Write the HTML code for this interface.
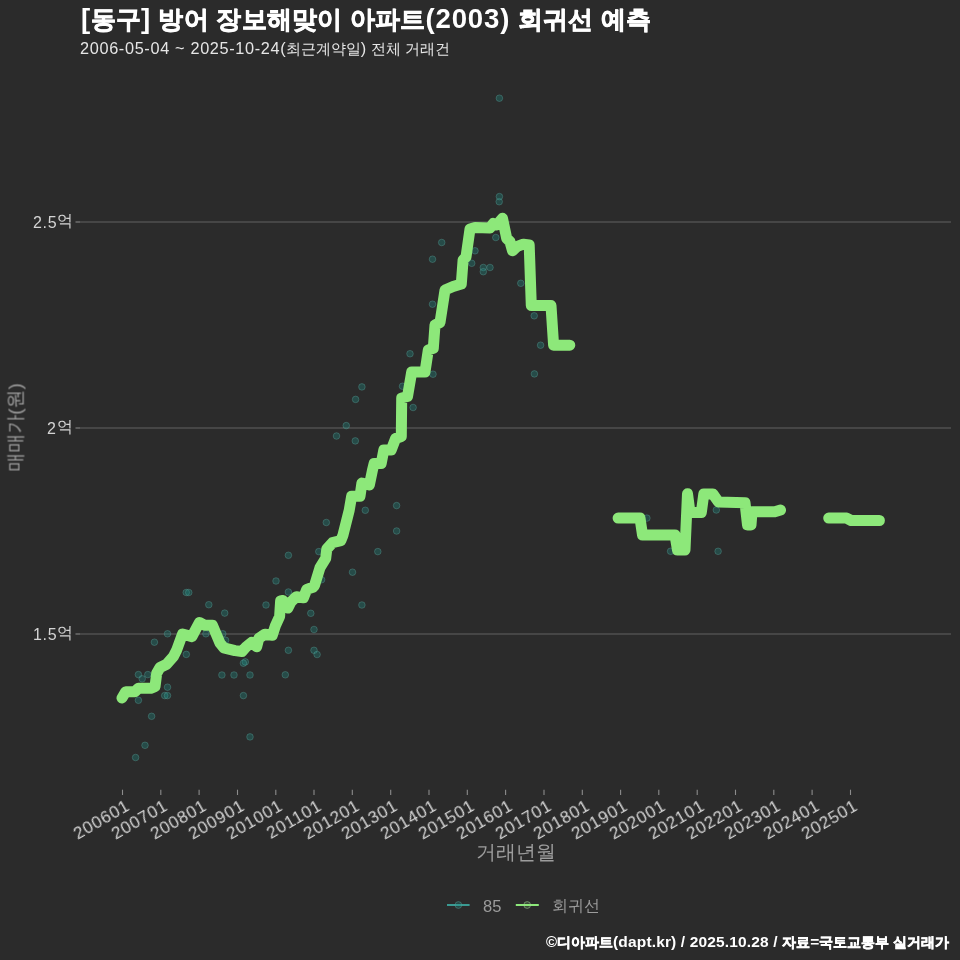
<!DOCTYPE html>
<html><head><meta charset="utf-8"><style>
html,body{margin:0;padding:0;}
body{width:960px;height:960px;background:#2b2b2b;position:relative;overflow:hidden;font-family:"Liberation Sans",sans-serif;}
.t{position:absolute;white-space:nowrap;line-height:1;will-change:transform;}
.xl{position:absolute;width:200px;text-align:right;white-space:nowrap;line-height:1;font-size:17px;letter-spacing:0.8px;color:#d4d4d4;transform-origin:100% 0;transform:rotate(-30deg);will-change:transform;}
svg{position:absolute;left:0;top:0;}
</style></head><body>
<svg width="960" height="960" viewBox="0 0 960 960">
<line x1="80" y1="222" x2="951" y2="222" stroke="#505050" stroke-width="1.6"/><line x1="75.5" y1="222" x2="80" y2="222" stroke="#6a6a6a" stroke-width="1.6"/><line x1="80" y1="428" x2="951" y2="428" stroke="#505050" stroke-width="1.6"/><line x1="75.5" y1="428" x2="80" y2="428" stroke="#6a6a6a" stroke-width="1.6"/><line x1="80" y1="634" x2="951" y2="634" stroke="#505050" stroke-width="1.6"/><line x1="75.5" y1="634" x2="80" y2="634" stroke="#6a6a6a" stroke-width="1.6"/><line x1="122.5" y1="789.7" x2="122.5" y2="795" stroke="#8c8c8c" stroke-width="1.1"/><line x1="160.8" y1="789.7" x2="160.8" y2="795" stroke="#8c8c8c" stroke-width="1.1"/><line x1="199.1" y1="789.7" x2="199.1" y2="795" stroke="#8c8c8c" stroke-width="1.1"/><line x1="237.5" y1="789.7" x2="237.5" y2="795" stroke="#8c8c8c" stroke-width="1.1"/><line x1="275.8" y1="789.7" x2="275.8" y2="795" stroke="#8c8c8c" stroke-width="1.1"/><line x1="314.0" y1="789.7" x2="314.0" y2="795" stroke="#8c8c8c" stroke-width="1.1"/><line x1="352.3" y1="789.7" x2="352.3" y2="795" stroke="#8c8c8c" stroke-width="1.1"/><line x1="390.7" y1="789.7" x2="390.7" y2="795" stroke="#8c8c8c" stroke-width="1.1"/><line x1="429.0" y1="789.7" x2="429.0" y2="795" stroke="#8c8c8c" stroke-width="1.1"/><line x1="467.3" y1="789.7" x2="467.3" y2="795" stroke="#8c8c8c" stroke-width="1.1"/><line x1="505.6" y1="789.7" x2="505.6" y2="795" stroke="#8c8c8c" stroke-width="1.1"/><line x1="544.0" y1="789.7" x2="544.0" y2="795" stroke="#8c8c8c" stroke-width="1.1"/><line x1="582.3" y1="789.7" x2="582.3" y2="795" stroke="#8c8c8c" stroke-width="1.1"/><line x1="620.6" y1="789.7" x2="620.6" y2="795" stroke="#8c8c8c" stroke-width="1.1"/><line x1="658.8" y1="789.7" x2="658.8" y2="795" stroke="#8c8c8c" stroke-width="1.1"/><line x1="697.2" y1="789.7" x2="697.2" y2="795" stroke="#8c8c8c" stroke-width="1.1"/><line x1="735.5" y1="789.7" x2="735.5" y2="795" stroke="#8c8c8c" stroke-width="1.1"/><line x1="773.8" y1="789.7" x2="773.8" y2="795" stroke="#8c8c8c" stroke-width="1.1"/><line x1="812.1" y1="789.7" x2="812.1" y2="795" stroke="#8c8c8c" stroke-width="1.1"/><line x1="850.5" y1="789.7" x2="850.5" y2="795" stroke="#8c8c8c" stroke-width="1.1"/><circle cx="208.8" cy="604.7" r="3.3" fill="#1f8f86" fill-opacity="0.33" stroke="#5fa8a0" stroke-opacity="0.35" stroke-width="1"/><circle cx="224.7" cy="613.1" r="3.3" fill="#1f8f86" fill-opacity="0.33" stroke="#5fa8a0" stroke-opacity="0.35" stroke-width="1"/><circle cx="167.5" cy="633.8" r="3.3" fill="#1f8f86" fill-opacity="0.33" stroke="#5fa8a0" stroke-opacity="0.35" stroke-width="1"/><circle cx="154.4" cy="642.2" r="3.3" fill="#1f8f86" fill-opacity="0.33" stroke="#5fa8a0" stroke-opacity="0.35" stroke-width="1"/><circle cx="186.3" cy="654.4" r="3.3" fill="#1f8f86" fill-opacity="0.33" stroke="#5fa8a0" stroke-opacity="0.35" stroke-width="1"/><circle cx="138.4" cy="674.6" r="3.3" fill="#1f8f86" fill-opacity="0.33" stroke="#5fa8a0" stroke-opacity="0.35" stroke-width="1"/><circle cx="147.8" cy="674.6" r="3.3" fill="#1f8f86" fill-opacity="0.33" stroke="#5fa8a0" stroke-opacity="0.35" stroke-width="1"/><circle cx="142.2" cy="678.8" r="3.3" fill="#1f8f86" fill-opacity="0.33" stroke="#5fa8a0" stroke-opacity="0.35" stroke-width="1"/><circle cx="167.5" cy="687.2" r="3.3" fill="#1f8f86" fill-opacity="0.33" stroke="#5fa8a0" stroke-opacity="0.35" stroke-width="1"/><circle cx="164.7" cy="695.6" r="3.3" fill="#1f8f86" fill-opacity="0.33" stroke="#5fa8a0" stroke-opacity="0.35" stroke-width="1"/><circle cx="167.5" cy="695.6" r="3.3" fill="#1f8f86" fill-opacity="0.33" stroke="#5fa8a0" stroke-opacity="0.35" stroke-width="1"/><circle cx="138.4" cy="700.3" r="3.3" fill="#1f8f86" fill-opacity="0.33" stroke="#5fa8a0" stroke-opacity="0.35" stroke-width="1"/><circle cx="151.6" cy="716.3" r="3.3" fill="#1f8f86" fill-opacity="0.33" stroke="#5fa8a0" stroke-opacity="0.35" stroke-width="1"/><circle cx="145.0" cy="745.3" r="3.3" fill="#1f8f86" fill-opacity="0.33" stroke="#5fa8a0" stroke-opacity="0.35" stroke-width="1"/><circle cx="135.6" cy="757.5" r="3.3" fill="#1f8f86" fill-opacity="0.33" stroke="#5fa8a0" stroke-opacity="0.35" stroke-width="1"/><circle cx="205.9" cy="633.8" r="3.3" fill="#1f8f86" fill-opacity="0.33" stroke="#5fa8a0" stroke-opacity="0.35" stroke-width="1"/><circle cx="222.8" cy="633.8" r="3.3" fill="#1f8f86" fill-opacity="0.33" stroke="#5fa8a0" stroke-opacity="0.35" stroke-width="1"/><circle cx="225.6" cy="640.3" r="3.3" fill="#1f8f86" fill-opacity="0.33" stroke="#5fa8a0" stroke-opacity="0.35" stroke-width="1"/><circle cx="221.9" cy="675.0" r="3.3" fill="#1f8f86" fill-opacity="0.33" stroke="#5fa8a0" stroke-opacity="0.35" stroke-width="1"/><circle cx="234.0" cy="675.0" r="3.3" fill="#1f8f86" fill-opacity="0.33" stroke="#5fa8a0" stroke-opacity="0.35" stroke-width="1"/><circle cx="250.0" cy="675.0" r="3.3" fill="#1f8f86" fill-opacity="0.33" stroke="#5fa8a0" stroke-opacity="0.35" stroke-width="1"/><circle cx="245.3" cy="661.9" r="3.3" fill="#1f8f86" fill-opacity="0.33" stroke="#5fa8a0" stroke-opacity="0.35" stroke-width="1"/><circle cx="243.4" cy="695.6" r="3.3" fill="#1f8f86" fill-opacity="0.33" stroke="#5fa8a0" stroke-opacity="0.35" stroke-width="1"/><circle cx="250.0" cy="736.9" r="3.3" fill="#1f8f86" fill-opacity="0.33" stroke="#5fa8a0" stroke-opacity="0.35" stroke-width="1"/><circle cx="276.0" cy="581.0" r="3.3" fill="#1f8f86" fill-opacity="0.33" stroke="#5fa8a0" stroke-opacity="0.35" stroke-width="1"/><circle cx="288.4" cy="592.0" r="3.3" fill="#1f8f86" fill-opacity="0.33" stroke="#5fa8a0" stroke-opacity="0.35" stroke-width="1"/><circle cx="266.0" cy="605.0" r="3.3" fill="#1f8f86" fill-opacity="0.33" stroke="#5fa8a0" stroke-opacity="0.35" stroke-width="1"/><circle cx="310.8" cy="613.3" r="3.3" fill="#1f8f86" fill-opacity="0.33" stroke="#5fa8a0" stroke-opacity="0.35" stroke-width="1"/><circle cx="314.0" cy="629.5" r="3.3" fill="#1f8f86" fill-opacity="0.33" stroke="#5fa8a0" stroke-opacity="0.35" stroke-width="1"/><circle cx="288.4" cy="650.3" r="3.3" fill="#1f8f86" fill-opacity="0.33" stroke="#5fa8a0" stroke-opacity="0.35" stroke-width="1"/><circle cx="314.0" cy="650.3" r="3.3" fill="#1f8f86" fill-opacity="0.33" stroke="#5fa8a0" stroke-opacity="0.35" stroke-width="1"/><circle cx="317.1" cy="654.5" r="3.3" fill="#1f8f86" fill-opacity="0.33" stroke="#5fa8a0" stroke-opacity="0.35" stroke-width="1"/><circle cx="285.3" cy="674.8" r="3.3" fill="#1f8f86" fill-opacity="0.33" stroke="#5fa8a0" stroke-opacity="0.35" stroke-width="1"/><circle cx="355.3" cy="440.9" r="3.3" fill="#1f8f86" fill-opacity="0.33" stroke="#5fa8a0" stroke-opacity="0.35" stroke-width="1"/><circle cx="326.3" cy="522.5" r="3.3" fill="#1f8f86" fill-opacity="0.33" stroke="#5fa8a0" stroke-opacity="0.35" stroke-width="1"/><circle cx="365.3" cy="510.3" r="3.3" fill="#1f8f86" fill-opacity="0.33" stroke="#5fa8a0" stroke-opacity="0.35" stroke-width="1"/><circle cx="396.6" cy="505.6" r="3.3" fill="#1f8f86" fill-opacity="0.33" stroke="#5fa8a0" stroke-opacity="0.35" stroke-width="1"/><circle cx="396.6" cy="531.0" r="3.3" fill="#1f8f86" fill-opacity="0.33" stroke="#5fa8a0" stroke-opacity="0.35" stroke-width="1"/><circle cx="288.4" cy="555.3" r="3.3" fill="#1f8f86" fill-opacity="0.33" stroke="#5fa8a0" stroke-opacity="0.35" stroke-width="1"/><circle cx="318.8" cy="551.6" r="3.3" fill="#1f8f86" fill-opacity="0.33" stroke="#5fa8a0" stroke-opacity="0.35" stroke-width="1"/><circle cx="377.8" cy="551.6" r="3.3" fill="#1f8f86" fill-opacity="0.33" stroke="#5fa8a0" stroke-opacity="0.35" stroke-width="1"/><circle cx="352.5" cy="572.2" r="3.3" fill="#1f8f86" fill-opacity="0.33" stroke="#5fa8a0" stroke-opacity="0.35" stroke-width="1"/><circle cx="321.6" cy="579.7" r="3.3" fill="#1f8f86" fill-opacity="0.33" stroke="#5fa8a0" stroke-opacity="0.35" stroke-width="1"/><circle cx="361.9" cy="605.0" r="3.3" fill="#1f8f86" fill-opacity="0.33" stroke="#5fa8a0" stroke-opacity="0.35" stroke-width="1"/><circle cx="410.0" cy="353.75" r="3.3" fill="#1f8f86" fill-opacity="0.33" stroke="#5fa8a0" stroke-opacity="0.35" stroke-width="1"/><circle cx="361.9" cy="386.9" r="3.3" fill="#1f8f86" fill-opacity="0.33" stroke="#5fa8a0" stroke-opacity="0.35" stroke-width="1"/><circle cx="355.6" cy="399.4" r="3.3" fill="#1f8f86" fill-opacity="0.33" stroke="#5fa8a0" stroke-opacity="0.35" stroke-width="1"/><circle cx="402.5" cy="386.25" r="3.3" fill="#1f8f86" fill-opacity="0.33" stroke="#5fa8a0" stroke-opacity="0.35" stroke-width="1"/><circle cx="413.1" cy="407.5" r="3.3" fill="#1f8f86" fill-opacity="0.33" stroke="#5fa8a0" stroke-opacity="0.35" stroke-width="1"/><circle cx="346.25" cy="425.6" r="3.3" fill="#1f8f86" fill-opacity="0.33" stroke="#5fa8a0" stroke-opacity="0.35" stroke-width="1"/><circle cx="336.5" cy="436.0" r="3.3" fill="#1f8f86" fill-opacity="0.33" stroke="#5fa8a0" stroke-opacity="0.35" stroke-width="1"/><circle cx="432.5" cy="304.2" r="3.3" fill="#1f8f86" fill-opacity="0.33" stroke="#5fa8a0" stroke-opacity="0.35" stroke-width="1"/><circle cx="433.0" cy="374.2" r="3.3" fill="#1f8f86" fill-opacity="0.33" stroke="#5fa8a0" stroke-opacity="0.35" stroke-width="1"/><circle cx="499.2" cy="201.7" r="3.3" fill="#1f8f86" fill-opacity="0.33" stroke="#5fa8a0" stroke-opacity="0.35" stroke-width="1"/><circle cx="441.7" cy="242.5" r="3.3" fill="#1f8f86" fill-opacity="0.33" stroke="#5fa8a0" stroke-opacity="0.35" stroke-width="1"/><circle cx="432.5" cy="259.2" r="3.3" fill="#1f8f86" fill-opacity="0.33" stroke="#5fa8a0" stroke-opacity="0.35" stroke-width="1"/><circle cx="495.8" cy="237.5" r="3.3" fill="#1f8f86" fill-opacity="0.33" stroke="#5fa8a0" stroke-opacity="0.35" stroke-width="1"/><circle cx="475.0" cy="250.8" r="3.3" fill="#1f8f86" fill-opacity="0.33" stroke="#5fa8a0" stroke-opacity="0.35" stroke-width="1"/><circle cx="471.7" cy="263.3" r="3.3" fill="#1f8f86" fill-opacity="0.33" stroke="#5fa8a0" stroke-opacity="0.35" stroke-width="1"/><circle cx="483.3" cy="267.5" r="3.3" fill="#1f8f86" fill-opacity="0.33" stroke="#5fa8a0" stroke-opacity="0.35" stroke-width="1"/><circle cx="490.0" cy="267.5" r="3.3" fill="#1f8f86" fill-opacity="0.33" stroke="#5fa8a0" stroke-opacity="0.35" stroke-width="1"/><circle cx="483.3" cy="271.7" r="3.3" fill="#1f8f86" fill-opacity="0.33" stroke="#5fa8a0" stroke-opacity="0.35" stroke-width="1"/><circle cx="520.8" cy="283.3" r="3.3" fill="#1f8f86" fill-opacity="0.33" stroke="#5fa8a0" stroke-opacity="0.35" stroke-width="1"/><circle cx="534.2" cy="315.8" r="3.3" fill="#1f8f86" fill-opacity="0.33" stroke="#5fa8a0" stroke-opacity="0.35" stroke-width="1"/><circle cx="499.4" cy="98.2" r="3.3" fill="#1f8f86" fill-opacity="0.33" stroke="#5fa8a0" stroke-opacity="0.35" stroke-width="1"/><circle cx="499.4" cy="196.6" r="3.3" fill="#1f8f86" fill-opacity="0.33" stroke="#5fa8a0" stroke-opacity="0.35" stroke-width="1"/><circle cx="540.6" cy="345.2" r="3.3" fill="#1f8f86" fill-opacity="0.33" stroke="#5fa8a0" stroke-opacity="0.35" stroke-width="1"/><circle cx="534.4" cy="373.9" r="3.3" fill="#1f8f86" fill-opacity="0.33" stroke="#5fa8a0" stroke-opacity="0.35" stroke-width="1"/><circle cx="646.9" cy="518.1" r="3.3" fill="#1f8f86" fill-opacity="0.33" stroke="#5fa8a0" stroke-opacity="0.35" stroke-width="1"/><circle cx="670.6" cy="551.3" r="3.3" fill="#1f8f86" fill-opacity="0.33" stroke="#5fa8a0" stroke-opacity="0.35" stroke-width="1"/><circle cx="716.3" cy="510.0" r="3.3" fill="#1f8f86" fill-opacity="0.33" stroke="#5fa8a0" stroke-opacity="0.35" stroke-width="1"/><circle cx="718.1" cy="551.3" r="3.3" fill="#1f8f86" fill-opacity="0.33" stroke="#5fa8a0" stroke-opacity="0.35" stroke-width="1"/><circle cx="186.25" cy="592.5" r="3.3" fill="#1f8f86" fill-opacity="0.33" stroke="#5fa8a0" stroke-opacity="0.35" stroke-width="1"/><circle cx="188.75" cy="592.5" r="3.3" fill="#1f8f86" fill-opacity="0.33" stroke="#5fa8a0" stroke-opacity="0.35" stroke-width="1"/><circle cx="243.4" cy="663.2" r="3.3" fill="#1f8f86" fill-opacity="0.33" stroke="#5fa8a0" stroke-opacity="0.35" stroke-width="1"/><polyline points="122,698 125.8,691.7 135,691.7 138.3,688.3 150.8,688.3 155,686.7 156.7,673.3 160,667.5 166.7,664.2 173.3,656.7 176.7,650 182.5,634 191.9,636.6 199.4,622.5 205,625.3 212.5,625.3 220,643.1 223.8,647.8 235,650.6 242,651.5 246.3,646.7 251.5,642.5 256.7,646.7 258.8,638.3 265,634.2 272.3,635.2 275.4,625.8 279.6,616.5 280.6,601 283,600.5 287.9,608.1 291,601.9 296.3,596.7 303.5,597.7 306.7,589.4 312.9,587.3 314.5,585.5 320,567.7 325.7,558.3 326.8,549 332.5,542.7 340.8,540.6 342.9,535.4 349.2,510.4 351.6,496.3 360,496.3 361.9,483.1 369.4,485 372.5,470 374.1,463.5 381.2,463.5 383.8,450 391.2,450 395.6,438.5 401.3,436.5 401.7,398 407.5,396.5 411.7,372 425,372 428.3,350 433.3,348.3 435,325 440,322.5 445,290 453.1,286.5 461.3,284 463.1,260 466,257 470,229 475,227.5 490,228 493.3,223.5 496.7,225 502.5,218.3 506.7,238.3 510,241.7 512.5,250.8 516.7,246.7 523.3,244.2 529.2,245 531.3,305.6 551,305.6 553.6,345.2 569.8,345.2" fill="none" stroke="#8de87a" stroke-width="11" stroke-linejoin="round" stroke-linecap="round"/><polyline points="618.1,518.1 640,518.1 642.5,535 675,535 677.5,550 685,550 687.5,493.8 690,512.5 701.3,512.5 703.8,494 712.9,494 718.6,502.1 745,502.7 747.5,525 751,525 752,511.8 774.8,511.8 780.5,510.1" fill="none" stroke="#8de87a" stroke-width="11" stroke-linejoin="round" stroke-linecap="round"/><polyline points="828.7,518.1 846.6,518.1 851.2,520.5 879.4,520.5" fill="none" stroke="#8de87a" stroke-width="11" stroke-linejoin="round" stroke-linecap="round"/><line x1="447" y1="905" x2="469.6" y2="905" stroke="#3a9a92" stroke-width="2"/><circle cx="458.4" cy="905" r="3.4" fill="#1f8f86" fill-opacity="0.3" stroke="#5fa8a0" stroke-opacity="0.4" stroke-width="1"/><line x1="515.8" y1="905" x2="538.8" y2="905" stroke="#8de87a" stroke-width="2"/><circle cx="527.2" cy="905" r="3.4" fill="#8de87a" fill-opacity="0.15" stroke="#a8d8a0" stroke-opacity="0.5" stroke-width="1"/>
</svg>
<div class="t" id="title" style="left:81px;top:5px;font-weight:bold;color:#ffffff"><span style="font-size:27.6px;letter-spacing:0.3px">[</span><span style="font-size:25.4px;letter-spacing:0.25px;-webkit-text-stroke:0.7px #fff">동구</span><span style="font-size:27.6px;letter-spacing:0.3px">] </span><span style="font-size:25.4px;letter-spacing:0.25px;-webkit-text-stroke:0.7px #fff">방어 장보해맞이 아파트</span><span style="font-size:27.6px;letter-spacing:0.8px">(2003)</span><span style="font-size:27.6px"> </span><span style="font-size:25.4px;letter-spacing:0.25px;-webkit-text-stroke:0.7px #fff">회귀선 예측</span></div>
<div class="t" id="sub" style="left:80px;top:40px;color:#e6e6e6"><span style="font-size:16.3px;letter-spacing:0.66px">2006-05-04 ~ 2025-10-24</span><span style="font-size:16.3px">(</span><span style="font-size:15.1px">최근계약일</span><span style="font-size:16.3px">) </span><span style="font-size:15.1px">전체 거래건</span></div>
<div class="t yl" style="right:887px;top:213px;font-size:16px;color:#d4d4d4"><span style="letter-spacing:0.7px;position:relative;top:2px">2.5</span><span style="">억</span></div>
<div class="t yl" style="right:887px;top:419px;font-size:16px;color:#d4d4d4"><span style="letter-spacing:0.7px;position:relative;top:2px">2</span><span style="">억</span></div>
<div class="t yl" style="right:887px;top:625px;font-size:16px;color:#d4d4d4"><span style="letter-spacing:0.7px;position:relative;top:2px">1.5</span><span style="">억</span></div>
<div class="t" id="ytitle" style="left:-35px;top:418px;font-size:19px;color:#9c9c9c;transform:rotate(-90deg);transform-origin:50% 50%;width:100px;text-align:center">매매가(원)</div>
<div class="xl" style="left:-76.0px;top:797px">200601</div><div class="xl" style="left:-37.7px;top:797px">200701</div><div class="xl" style="left:0.6px;top:797px">200801</div><div class="xl" style="left:39.0px;top:797px">200901</div><div class="xl" style="left:77.3px;top:797px">201001</div><div class="xl" style="left:115.5px;top:797px">201101</div><div class="xl" style="left:153.8px;top:797px">201201</div><div class="xl" style="left:192.2px;top:797px">201301</div><div class="xl" style="left:230.5px;top:797px">201401</div><div class="xl" style="left:268.8px;top:797px">201501</div><div class="xl" style="left:307.1px;top:797px">201601</div><div class="xl" style="left:345.5px;top:797px">201701</div><div class="xl" style="left:383.8px;top:797px">201801</div><div class="xl" style="left:422.1px;top:797px">201901</div><div class="xl" style="left:460.3px;top:797px">202001</div><div class="xl" style="left:498.7px;top:797px">202101</div><div class="xl" style="left:537.0px;top:797px">202201</div><div class="xl" style="left:575.3px;top:797px">202301</div><div class="xl" style="left:613.6px;top:797px">202401</div><div class="xl" style="left:652.0px;top:797px">202501</div>
<div class="t" id="xtitle" style="left:466px;top:842px;width:100px;text-align:center;font-size:20px;color:#9c9c9c">거래년월</div>
<div class="t" style="left:483px;top:898px;font-size:16.5px;color:#9c9c9c">85</div>
<div class="t" style="left:552px;top:897.5px;font-size:15.6px;color:#9c9c9c">회귀선</div>
<div class="t" id="cap" style="right:11px;top:934px;font-weight:bold;color:#ffffff"><span style="font-size:15px">©</span><span style="font-size:14.1px;-webkit-text-stroke:0.5px #fff">디아파트</span><span style="font-size:15.5px;letter-spacing:0.15px">(dapt.kr) / 2025.10.28 / </span><span style="font-size:14.1px;-webkit-text-stroke:0.5px #fff">자료</span><span style="font-size:15.5px">=</span><span style="font-size:14.1px;-webkit-text-stroke:0.5px #fff">국토교통부 실거래가</span></div>
</body></html>
